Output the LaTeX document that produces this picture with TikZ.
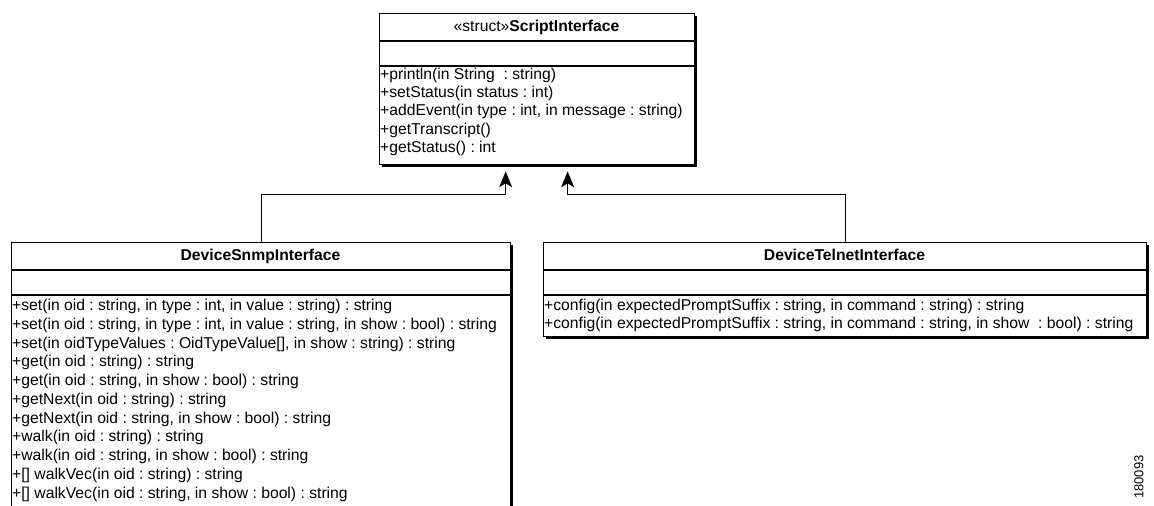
\documentclass[tikz,border=0pt]{standalone}
\usepackage{fontspec}
\setmainfont{Liberation Sans}
\usetikzlibrary{arrows.meta,calc,shadows}
\frenchspacing

\newcommand{\umlfont}{\fontsize{15.7}{18.5}\selectfont}
\tikzset{
  classbox/.style={draw, line width=1.3pt, fill=white, rectangle, inner sep=0pt, anchor=north west,
    drop shadow={shadow xshift=2pt, shadow yshift=-2pt, fill=black, opacity=1}},
  member/.style={anchor=base west, inner sep=0pt, font=\umlfont},
  title/.style={anchor=base, inner sep=0pt, font=\umlfont},
  inherit/.style={-{Stealth[length=16pt,width=13pt,inset=4pt]}, line width=1.2pt},
}

\begin{document}
\begin{tikzpicture}[x=1pt, y=-1pt]
\fill [white] (0,0) rectangle (1154,506);
\useasboundingbox (0,0) rectangle (1154,506);
\clip (0,0) rectangle (1154,506);
% ScriptInterface
\node (script) [classbox, minimum width=315pt, minimum height=151pt] at (379,13) {};
\draw [line width=1.3pt] (379,41) -- (694,41);
\draw [line width=1.3pt] (379,66) -- (694,66);
\node (scripthead) [title] at (536.5,31) {«struct»\textbf{ScriptInterface}};
\node (s1) [member] at (380,79.5) {+println(in String~ : string)};
\node (s2) [member] at (380,97.7) {+setStatus(in status : int)};
\node (s3) [member] at (380,115.9) {+addEvent(in type : int, in message : string)};
\node (s4) [member] at (380,134.1) {+getTranscript()};
\node (s5) [member] at (380,152.3) {+getStatus() : int};
% DeviceSnmpInterface
\node (snmp) [classbox, minimum width=499pt, minimum height=300pt] at (11,242) {};
\draw [line width=1.3pt] (11,270) -- (510,270);
\draw [line width=1.3pt] (11,295) -- (510,295);
\node (snmphead) [title] at (260.5,260) {\textbf{DeviceSnmpInterface}};
\node (n1) [member] at (12,310.5) {+set(in oid : string, in type : int, in value : string) : string};
\node (n2) [member] at (12,329.3) {+set(in oid : string, in type : int, in value : string, in show : bool) : string};
\node (n3) [member] at (12,348) {+set(in oidTypeValues : OidTypeValue[], in show : string) : string};
\node (n4) [member] at (12,366.8) {+get(in oid : string) : string};
\node (n5) [member] at (12,385.5) {+get(in oid : string, in show : bool) : string};
\node (n6) [member] at (12,404.3) {+getNext(in oid : string) : string};
\node (n7) [member] at (12,423) {+getNext(in oid : string, in show : bool) : string};
\node (n8) [member] at (12,441.8) {+walk(in oid : string) : string};
\node (n9) [member] at (12,460.5) {+walk(in oid : string, in show : bool) : string};
\node (n10) [member] at (12,479.3) {+[] walkVec(in oid : string) : string};
\node (n11) [member] at (12,498) {+[] walkVec(in oid : string, in show : bool) : string};
% DeviceTelnetInterface
\node (telnet) [classbox, minimum width=603pt, minimum height=94pt] at (543,242) {};
\draw [line width=1.3pt] (543,270) -- (1146,270);
\draw [line width=1.3pt] (543,295) -- (1146,295);
\node (telnethead) [title] at (844.5,260) {\textbf{DeviceTelnetInterface}};
\node (t1) [member] at (544,310) {+config(in expectedPromptSuffix : string, in command : string) : string};
\node (t2) [member] at (544,328.5) {+config(in expectedPromptSuffix : string, in command : string, in show~ : bool) : string};
% generalisation
\coordinate (tipL) at ($(script.south)+(-31.5,6)$);
\coordinate (tipR) at ($(script.south)+(30.5,6)$);
\draw [inherit] (snmp.north) |- ($(tipL)+(0,23)$) -- (tipL);
\draw [inherit] (telnet.north) |- ($(tipR)+(0,23)$) -- (tipR);
\node (figid) [rotate=90, inner sep=0pt, font=\fontsize{13}{13}\selectfont] at (1139,477) {180093};
\end{tikzpicture}
\end{document}
